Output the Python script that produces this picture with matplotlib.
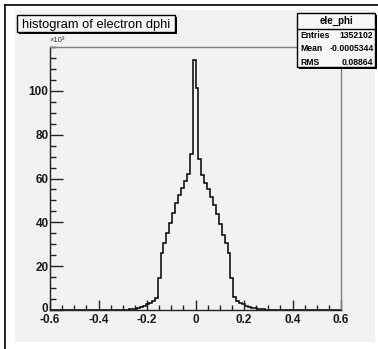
import matplotlib
matplotlib.use("Agg")
import matplotlib.pyplot as plt
from matplotlib import font_manager
from matplotlib.patches import Rectangle
from matplotlib.lines import Line2D
from matplotlib.ticker import MultipleLocator
from matplotlib.transforms import ScaledTranslation
import numpy as np

W, H = 378, 349

# ele_phi: 100 bins on [-0.6, 0.6], bin contents in units of 10^3
x_lo, x_hi, n_bins = -0.6, 0.6, 100
first_bin = 21
filled_k = [
    0.02, 0.04, 0.07, 0.10, 0.15, 0.20, 0.30, 0.45, 0.60, 0.90,
    1.2, 1.8, 2.6, 3.2, 4.1, 5.5,
    14.6, 25.9, 30.7, 35.3, 39.8, 44.1, 48.9, 52.6, 55.9, 58.8, 61.9, 71.1,
    114.3, 101.4,
    68.7, 61.4, 58.1, 55.3, 51.7, 47.9, 43.8, 39.2, 34.3, 30.4, 25.9, 14.6,
    5.9, 4.2, 3.3, 2.6, 1.8, 1.4, 1.0, 0.75, 0.55, 0.35, 0.25, 0.15,
    0.10, 0.07, 0.04, 0.02,
]
counts = [0.0] * first_bin + filled_k + [0.0] * (n_bins - first_bin - len(filled_k))
edges = np.linspace(x_lo, x_hi, n_bins + 1)

x_ticks = [-0.6, -0.4, -0.2, 0.0, 0.2, 0.4, 0.6]
x_labels = ["-0.6", "-0.4", "-0.2", "0", "0.2", "0.4", "0.6"]
y_ticks = [0, 20, 40, 60, 80, 100]

title = "histogram of electron dphi"
stats_name = "ele_phi"
stats_rows = [("Entries", "1352102"), ("Mean", "-0.0005344"), ("RMS", "0.08864")]

installed = {f.name for f in font_manager.fontManager.ttflist}
narrow = "Liberation Sans Narrow" if "Liberation Sans Narrow" in installed else "Liberation Sans"
regular = "Liberation Sans"
label_size = 9 if narrow != regular else 8.5
stat_size = 6.8 if narrow != regular else 6.2


def fx(x):
    return x / W


def fy(y):
    return 1 - y / H


fig = plt.figure(figsize=(W / 100, H / 100), dpi=100)
fig.patch.set_facecolor("white")

# canvas background and outer frame
fig.add_artist(Rectangle((fx(15), fy(342)), (375 - 15) / W, (342 - 10) / H,
                         transform=fig.transFigure, facecolor="#f2f2f2",
                         edgecolor="none", zorder=-2))
fig.add_artist(Line2D([fx(5), fx(5)], [fy(5), fy(349)], color="black", lw=1.2,
                      transform=fig.transFigure))
fig.add_artist(Line2D([fx(5), fx(378)], [fy(5), fy(5)], color="black", lw=1.2,
                      transform=fig.transFigure))

ax = fig.add_axes([fx(50), fy(310), 291 / W, 263 / H])
ax.set_facecolor("#f2f2f2")
ax.stairs(counts, edges, color="black", lw=1.1)
ax.set_xlim(x_lo, x_hi)
ax.set_ylim(0, 1.05 * max(counts))

for side in ("left", "bottom"):
    ax.spines[side].set_color("#222222")
    ax.spines[side].set_linewidth(1.0)
for side in ("top", "right"):
    ax.spines[side].set_color("#808080")
    ax.spines[side].set_linewidth(1.0)

ax.set_xticks(x_ticks)
ax.set_xticklabels(x_labels)
ax.set_yticks(y_ticks)
ax.xaxis.set_minor_locator(MultipleLocator(0.05))
ax.yaxis.set_minor_locator(MultipleLocator(5))
ax.tick_params(which="both", direction="in", color="#222222", width=1,
               top=False, right=False)
ax.tick_params(axis="x", which="major", length=7, pad=3)
ax.tick_params(axis="x", which="minor", length=3.5)
ax.tick_params(axis="y", which="major", length=9, pad=1)
ax.tick_params(axis="y", which="minor", length=4.5)
for lab in ax.get_xticklabels() + ax.get_yticklabels():
    lab.set_fontfamily(narrow)
    lab.set_fontweight("bold")
    lab.set_fontsize(label_size)
    lab.set_color("#1a1a1a")

# lift the y "0" a little so it clears the "-0.6" below it
zero_lab = ax.get_yticklabels()[0]
zero_lab.set_transform(zero_lab.get_transform()
                       + ScaledTranslation(0, 3 / 100, fig.dpi_scale_trans))

fig.text(fx(49), fy(44), "×10³", fontsize=5.5, family=regular,
         ha="left", va="bottom", color="#333333")

# title pave
tx0, ty0, tx1, ty1 = 17, 15, 175, 32
fig.add_artist(Rectangle((fx(tx0 + 2), fy(ty1 + 2)), (tx1 - tx0) / W, (ty1 - ty0) / H,
                         transform=fig.transFigure, facecolor="black",
                         edgecolor="none", zorder=5))
fig.add_artist(Rectangle((fx(tx0), fy(ty1)), (tx1 - tx0) / W, (ty1 - ty0) / H,
                         transform=fig.transFigure, facecolor="#f7f7f7",
                         edgecolor="black", lw=1, zorder=6))
fig.text(fx((tx0 + tx1) / 2), fy(28.3), title, fontsize=9.3, family=regular,
         ha="center", va="baseline", zorder=7)

# statistics box
sx0, sy0, sx1, sy1 = 297, 13.5, 375, 67
fig.add_artist(Rectangle((fx(sx0 + 2), fy(sy1 + 2)), (sx1 - sx0) / W, (sy1 - sy0) / H,
                         transform=fig.transFigure, facecolor="black",
                         edgecolor="none", zorder=5))
fig.add_artist(Rectangle((fx(sx0), fy(sy1)), (sx1 - sx0) / W, (sy1 - sy0) / H,
                         transform=fig.transFigure, facecolor="#f7f7f7",
                         edgecolor="black", lw=1, zorder=6))
fig.add_artist(Line2D([fx(sx0), fx(sx1)], [fy(29), fy(29)], color="black", lw=1,
                      transform=fig.transFigure, zorder=7))
fig.text(fx((sx0 + sx1) / 2), fy(24.3), stats_name, fontsize=7, family=narrow,
         fontweight="bold", ha="center", va="baseline", zorder=7)
for i, (name, value) in enumerate(stats_rows):
    base = 37.8 + 13.5 * i
    fig.text(fx(sx0 + 3), fy(base), name, fontsize=stat_size, family=narrow,
             fontweight="bold", ha="left", va="baseline", zorder=7)
    fig.text(fx(sx1 - 1.5), fy(base), value, fontsize=stat_size, family=narrow,
             fontweight="bold", ha="right", va="baseline", zorder=7)

fig.savefig("out.png", dpi=100)
